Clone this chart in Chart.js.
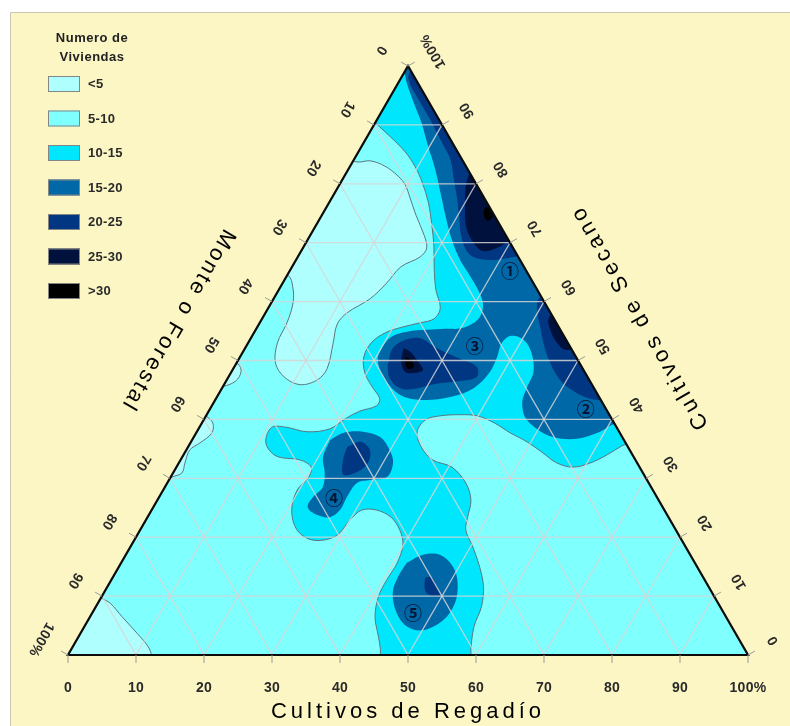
<!DOCTYPE html>
<html>
<head>
<meta charset="utf-8">
<script src="https://cdn.jsdelivr.net/npm/chart.js@4/dist/chart.umd.min.js"></script>
<style>
  html, body { margin: 0; padding: 0; background: #ffffff; }
  canvas { display: block; }
</style>
</head>
<body>
<canvas id="ternary" width="790" height="726"></canvas>
<script>
const SQ3 = Math.sqrt(3);

// Legend classes: number of dwellings
const legendTitle = ['Numero de', 'Viviendas'];
const levelLabels = ['<5', '5-10', '10-15', '15-20', '20-25', '25-30', '>30'];
const levelColors = ['#b0ffff', '#80ffff', '#00e6fc', '#0068a6', '#003682', '#00113d', '#000000'];

// Axis ticks (percent) and titles
const axisTicks = [0, 10, 20, 30, 40, 50, 60, 70, 80, 90, 100];
const titleRegadio = 'Cultivos de Regadío';
const titleSecano = 'Cultivos de Secano';
const titleMonte = 'Monte o Forestal';

// Contour outlines, each point = [Cultivos de Regadío %, Cultivos de Secano %]
// (Monte o Forestal = 100 - both). Parts that fall outside the triangle are clipped.
const triangle = [[0, 0], [100, 0], [0, 100]];

const below5 = [
  [[-11.3, 90.9], [-1.5, 84.4], [0.8, 83.7], [2.5, 83.9], [5.1, 83.0], [7.9, 81.3], [9.7, 79.8], [11.5, 77.6],
   [13.9, 74.6], [16.8, 71.2], [18.2, 69.1], [18.0, 67.6], [16.0, 65.9], [15.3, 63.2], [14.2, 60.5], [12.0, 58.1],
   [11.5, 56.2], [12.5, 53.0], [13.8, 48.6], [13.3, 46.7], [11.2, 45.9], [8.2, 47.2], [5.7, 49.6], [4.3, 53.0],
   [4.0, 56.4], [3.2, 59.8], [1.8, 62.5], [0.2, 64.4], [-4.9, 66.2], [-11.7, 85.8]],
  [[-2.3, 11.0], [0.0, 9.7], [1.8, 8.8], [4.7, 6.5], [8.3, 3.7], [11.1, 1.4], [12.4, -0.2], [14.6, -4.3], [-2.0, -4.3]],
  [[-3.7, 43.3], [0.0, 40.6], [1.6, 39.4], [2.3, 37.7], [1.4, 36.0], [0.5, 34.8], [0.9, 32.6], [1.3, 30.9], [0.2, 30.2], [-2.0, 28.0]],
  [[-2.0, 50.1], [0.3, 49.4], [1.4, 48.1], [1.4, 46.5], [0.0, 45.6], [-2.0, 45.5]]
];

const band10to15 = [
  [[-11.4, 102.7], [-0.9, 91.2], [0.1, 90.3], [3.4, 88.0], [6.9, 85.4], [9.6, 82.9], [12.0, 80.2], [14.6, 76.8],
   [17.0, 73.0], [19.0, 69.6], [21.0, 65.7], [23.1, 62.0], [25.3, 58.9], [25.3, 57.1], [23.6, 56.4], [21.4, 55.7],
   [19.3, 54.7], [18.1, 53.0], [18.2, 50.6], [19.7, 47.9], [22.0, 45.5], [24.1, 43.5], [24.2, 42.3], [22.2, 41.4],
   [20.8, 40.2], [19.3, 38.4], [16.2, 37.9], [12.6, 38.7], [10.6, 38.6], [11.1, 36.0], [13.7, 33.8], [17.6, 33.1],
   [19.8, 31.9], [20.3, 30.1], [19.7, 28.0], [20.6, 24.6], [23.1, 21.2], [26.3, 19.5], [29.3, 20.2], [30.0, 22.9],
   [30.9, 24.6], [33.1, 24.6], [35.8, 23.4], [38.2, 21.2], [39.9, 18.7], [40.6, 15.6], [40.5, 12.7], [40.7, 9.9],
   [41.9, 6.5], [43.9, 3.4], [45.5, 0.9], [48.2, -4.3], [61.2, -4.3], [58.8, 0.9], [57.3, 4.8], [56.7, 8.2],
   [55.3, 11.6], [53.1, 14.9], [50.4, 18.3], [47.9, 21.2], [47.1, 23.3], [46.1, 26.3], [43.9, 29.2], [40.5, 31.9],
   [37.1, 33.1], [34.3, 35.3], [32.4, 37.9], [32.6, 39.9], [34.4, 40.6], [37.3, 40.8], [39.9, 40.6], [43.0, 39.4],
   [46.2, 37.7], [49.4, 36.2], [52.7, 34.3], [55.6, 32.6], [58.3, 31.9], [60.5, 32.6], [62.3, 34.0], [63.7, 35.5],
   [65.7, 36.9], [62.8, 60.3], [7.5, 106.1]]
];

const band15to20 = [
  [[1.6, 106.1], [0.0, 100.0], [0.3, 98.5], [3.6, 94.2], [6.7, 90.5], [9.6, 86.6], [12.6, 82.7], [15.8, 78.1],
   [18.7, 73.9], [21.2, 70.5], [24.1, 67.1], [26.9, 64.4], [29.3, 62.0], [31.4, 59.3], [31.8, 56.9], [30.2, 55.5],
   [27.8, 55.4], [25.2, 55.2], [22.4, 54.9], [20.5, 54.0], [20.1, 52.1], [20.5, 50.1], [23.0, 47.0], [26.7, 44.2],
   [30.4, 43.3], [34.3, 43.8], [37.0, 45.3], [38.0, 47.9], [37.8, 50.6], [37.3, 53.0], [38.1, 54.2], [40.3, 53.5],
   [42.5, 51.3], [44.4, 48.1], [44.8, 45.3], [45.3, 43.0], [47.0, 40.4], [49.4, 38.6], [52.8, 37.0], [56.5, 36.7],
   [59.3, 37.9], [60.7, 39.2], [64.2, 39.9], [45.5, 77.3]],
  [[20.3, 36.5], [21.6, 37.7], [24.4, 37.9], [27.4, 37.0], [29.9, 34.8], [31.5, 32.6], [31.8, 30.2], [29.6, 29.7],
   [27.9, 29.2], [27.6, 26.8], [27.7, 24.6], [26.8, 23.4], [24.7, 23.8], [22.7, 25.1], [22.6, 26.8], [23.2, 28.5],
   [22.3, 30.9], [20.7, 33.6]],
  [[42.0, 15.6], [43.7, 17.0], [46.2, 17.0], [49.2, 14.9], [51.2, 12.2], [52.5, 8.8], [52.2, 5.9], [50.1, 4.2],
   [47.5, 4.8], [44.8, 7.1], [42.5, 10.5], [41.9, 13.2]]
];

const band20to25 = [
  [[3.1, 106.1], [0.8, 99.0], [1.3, 97.6], [3.6, 95.1], [6.1, 92.6], [8.4, 90.3], [11.4, 87.1], [14.2, 84.1],
   [16.4, 80.7], [18.6, 77.3], [20.6, 73.9], [22.7, 70.5], [25.2, 67.9], [27.8, 67.1], [30.2, 67.2], [32.0, 67.6],
   [34.7, 67.9], [33.7, 77.3]],
  [[22.4, 49.2], [21.7, 52.1], [22.8, 53.5], [24.8, 53.8], [28.2, 52.1], [32.5, 50.3], [35.7, 48.9], [36.5, 47.2],
   [34.4, 46.5], [31.0, 46.0], [28.4, 45.2], [26.2, 45.3], [23.8, 47.0]],
  [[42.0, 63.7], [39.0, 60.6], [39.8, 58.4], [41.6, 55.7], [43.7, 52.6], [46.1, 49.6], [49.0, 46.7], [51.6, 45.0],
   [54.1, 43.8], [56.3, 43.3], [59.5, 43.3], [56.5, 55.2]],
  [[23.4, 35.3], [24.9, 36.2], [27.0, 34.8], [27.8, 32.6], [27.0, 31.1], [25.2, 30.6], [23.9, 33.1]],
  [[45.9, 13.2], [46.9, 13.2], [48.5, 11.5], [49.6, 10.2], [48.1, 10.2], [47.0, 11.0]]
];

const band25to30 = [
  [[17.7, 85.8], [18.1, 82.0], [18.7, 79.6], [20.2, 76.4], [22.0, 73.0], [24.3, 70.3], [26.7, 68.6], [28.5, 69.1],
   [29.7, 70.3], [31.9, 72.2]],
  [[23.3, 52.1], [24.6, 51.5], [26.6, 49.8], [28.0, 48.4], [27.1, 47.9], [25.5, 48.1], [24.1, 49.8]],
  [[43.0, 60.3], [42.1, 57.2], [43.5, 55.0], [45.2, 53.2], [47.3, 51.8], [49.0, 52.6]]
];

const above30 = [
  [[23.3, 76.1], [24.3, 75.7], [25.2, 74.5], [24.9, 73.7], [23.8, 74.7]],
  [[24.4, 50.6], [25.4, 50.1], [26.4, 48.9], [25.7, 48.6], [24.8, 49.6]]
];

// Numbered sites
const siteLabels = ['①', '②', '③', '④', '⑤'];
const siteRegadio = [32.3, 55.2, 33.5, 25.7, 47.1];
const siteSecano = [65.4, 41.9, 52.6, 26.8, 7.3];

// ---- build datasets (painted from lowest class up) ----
const toXY = ([r, s]) => ({ x: r + s / 2, y: s * SQ3 / 2 });

const layers = [
  { level: 1, polys: [triangle], tension: 0, outline: false },
  { level: 0, polys: below5, tension: 0.35, outline: true },
  { level: 2, polys: band10to15, tension: 0.35, outline: true },
  { level: 3, polys: band15to20, tension: 0.35, outline: false },
  { level: 4, polys: band20to25, tension: 0.35, outline: false },
  { level: 5, polys: band25to30, tension: 0.35, outline: false },
  { level: 6, polys: above30, tension: 0.35, outline: false }
];

const datasets = [];
layers.forEach(layer => {
  layer.polys.forEach(poly => {
    datasets.push({
      label: levelLabels[layer.level],
      data: poly.concat([poly[0]]).map(toXY),
      showLine: true,
      fill: 'shape',
      backgroundColor: levelColors[layer.level],
      borderColor: layer.outline ? '#5c767e' : 'rgba(0,0,0,0)',
      borderWidth: 1,
      pointRadius: 0,
      pointHoverRadius: 0,
      tension: layer.tension,
      order: 1000 - datasets.length
    });
  });
});

// ---- drawing helpers ----
function tp(chart, r, s) {
  return [chart.scales.x.getPixelForValue(r + s / 2), chart.scales.y.getPixelForValue(s * SQ3 / 2)];
}
function trianglePath(chart, ctx) {
  const a = tp(chart, 0, 0), b = tp(chart, 100, 0), c = tp(chart, 0, 100);
  ctx.beginPath();
  ctx.moveTo(a[0], a[1]); ctx.lineTo(b[0], b[1]); ctx.lineTo(c[0], c[1]); ctx.closePath();
}
function seg(ctx, p, q) {
  ctx.beginPath(); ctx.moveTo(p[0], p[1]); ctx.lineTo(q[0], q[1]); ctx.stroke();
}
function text(ctx, str, x, y, rot, font, spacing, color) {
  ctx.save();
  ctx.translate(x, y);
  ctx.rotate(rot);
  ctx.font = font;
  if ('letterSpacing' in ctx) ctx.letterSpacing = spacing || '0px';
  ctx.fillStyle = color || '#1a1a1a';
  ctx.textAlign = 'center';
  ctx.textBaseline = 'middle';
  ctx.fillText(str, 0, 0);
  ctx.restore();
}

const FONT = '"Liberation Sans", Arial, Helvetica, sans-serif';
const nL = [-SQ3 / 2, -0.5];  // outward normal of the Monte edge
const nR = [SQ3 / 2, -0.5];   // outward normal of the Secano edge

const ternaryFrame = {
  id: 'ternaryFrame',
  beforeDraw(chart) {
    const ctx = chart.ctx;
    ctx.save();
    ctx.fillStyle = '#ffffff';
    ctx.fillRect(0, 0, chart.width, chart.height);
    ctx.fillStyle = '#fbf6c4';
    ctx.fillRect(10, 12, chart.width - 10, chart.height - 12);
    ctx.strokeStyle = '#c9c7b4';
    ctx.lineWidth = 1;
    ctx.beginPath();
    ctx.moveTo(10.5, chart.height); ctx.lineTo(10.5, 12.5); ctx.lineTo(chart.width, 12.5);
    ctx.stroke();
    ctx.restore();
  },
  beforeDatasetsDraw(chart) {
    const ctx = chart.ctx;
    ctx.save();
    trianglePath(chart, ctx);
    ctx.clip();
  },
  afterDatasetsDraw(chart) {
    const ctx = chart.ctx;
    ctx.restore();
    ctx.save();

    // triangular grid every 10 %
    ctx.save();
    trianglePath(chart, ctx);
    ctx.clip();
    ctx.strokeStyle = 'rgba(214,214,214,0.85)';
    ctx.lineWidth = 1.3;
    axisTicks.slice(1, -1).forEach(v => {
      seg(ctx, tp(chart, 0, v), tp(chart, 100 - v, v));
      seg(ctx, tp(chart, v, 0), tp(chart, v, 100 - v));
      seg(ctx, tp(chart, 100 - v, 0), tp(chart, 0, 100 - v));
    });
    ctx.restore();

    // outer frame
    ctx.strokeStyle = '#0c0c0c';
    ctx.lineWidth = 2.2;
    ctx.lineJoin = 'miter';
    trianglePath(chart, ctx);
    ctx.stroke();

    // ticks and tick labels
    ctx.strokeStyle = '#9a9a9a';
    ctx.lineWidth = 1;
    const tickFont = 'bold 14px ' + FONT;
    axisTicks.forEach(v => {
      const lab = v === 100 ? '100%' : String(v);
      // Cultivos de Regadío (bottom)
      const pb = tp(chart, v, 0);
      seg(ctx, pb, [pb[0], pb[1] + 8]);
      text(ctx, lab, pb[0], pb[1] + 33, 0, tickFont, '0.3px', '#2a2a2a');
      // Monte o Forestal (left, 0 at the top)
      const pl = tp(chart, 0, 100 - v);
      seg(ctx, pl, [pl[0] + 8 * nL[0], pl[1] + 8 * nL[1]]);
      text(ctx, lab, pl[0] + 31 * nL[0], pl[1] + 31 * nL[1], 2 * Math.PI / 3, tickFont, '0.3px', '#2a2a2a');
      // Cultivos de Secano (right, 0 at the bottom)
      const pr = tp(chart, 100 - v, v);
      seg(ctx, pr, [pr[0] + 8 * nR[0], pr[1] + 8 * nR[1]]);
      text(ctx, lab, pr[0] + 29 * nR[0], pr[1] + 29 * nR[1], -2 * Math.PI / 3, tickFont, '0.3px', '#2a2a2a');
    });

    // axis titles
    const titleFont = '22px ' + FONT;
    const pb = tp(chart, 50, 0);
    text(ctx, titleRegadio, pb[0], pb[1] + 57, 0, titleFont, '4px', '#000');
    const pl = tp(chart, 0, 50.7);
    text(ctx, titleMonte, pl[0] + 72 * nL[0], pl[1] + 72 * nL[1], 2 * Math.PI / 3, titleFont, '2.6px', '#000');
    const pr = tp(chart, 49, 51);
    text(ctx, titleSecano, pr[0] + 75 * nR[0], pr[1] + 75 * nR[1], -2 * Math.PI / 3, titleFont, '3.7px', '#000');

    // numbered sites
    siteLabels.forEach((lab, i) => {
      const p = tp(chart, siteRegadio[i], siteSecano[i]);
      text(ctx, lab, p[0], p[1] + 1, 0, 'bold 18px "Noto Sans CJK JP", "DejaVu Sans", sans-serif', '0px', '#081530');
    });

    // legend
    text(ctx, legendTitle[0], 92, 38, 0, 'bold 13px ' + FONT, '0.5px', '#222');
    text(ctx, legendTitle[1], 92, 57, 0, 'bold 13px ' + FONT, '0.5px', '#222');
    levelLabels.forEach((lab, i) => {
      const top = 76 + i * 34.5;
      ctx.fillStyle = levelColors[i];
      ctx.fillRect(48, top, 32, 16);
      ctx.strokeStyle = '#858585';
      ctx.lineWidth = 1;
      ctx.strokeRect(48.5, top + 0.5, 31, 15);
      ctx.save();
      ctx.font = 'bold 13px ' + FONT;
      if ('letterSpacing' in ctx) ctx.letterSpacing = '0.3px';
      ctx.fillStyle = '#2a2a2a';
      ctx.textAlign = 'left';
      ctx.textBaseline = 'middle';
      ctx.fillText(lab, 88, top + 8.5);
      ctx.restore();
    });

    ctx.restore();
  }
};

new Chart(document.getElementById('ternary'), {
  type: 'scatter',
  data: { datasets },
  options: {
    responsive: false,
    animation: false,
    devicePixelRatio: 1,
    events: [],
    layout: { padding: { left: 68, right: 42, top: 66, bottom: 71 } },
    scales: {
      x: { type: 'linear', min: 0, max: 100, display: false },
      y: { type: 'linear', min: 0, max: 50 * SQ3, display: false }
    },
    elements: { line: { capBezierPoints: false } },
    plugins: { legend: { display: false }, tooltip: { enabled: false } }
  },
  plugins: [ternaryFrame]
});
</script>
</body>
</html>
